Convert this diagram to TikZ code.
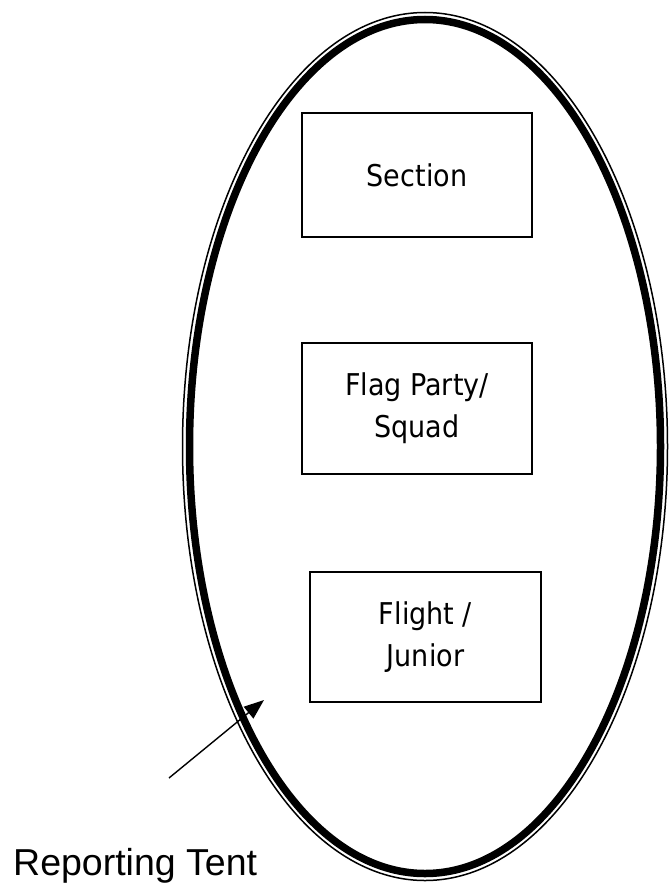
\documentclass[tikz,border=0pt]{standalone}
\usepackage{fontspec}
\setmainfont{Liberation Sans}
\newfontfamily\boxfont{DejaVu Sans Condensed}
\usetikzlibrary{arrows.meta}
\tikzset{
  tentbox/.style={draw, line width=1.4pt, inner sep=0pt, align=center,
    font=\boxfont\fontsize{30}{42}\selectfont},
  tentlabel/.style={inner sep=0pt, anchor=base west, font=\fontsize{37.5}{40}\selectfont},
  pointer/.style={line width=1.4pt, -{Triangle[length=20pt,width=15pt]}}
}
\begin{document}
\begin{tikzpicture}[x=1pt,y=-1pt]
\useasboundingbox (0,0) rectangle (670,888);
% tent outline: thin outer line and thick inner line
\draw[line width=1.5pt] (425,446.5) ellipse [x radius=242.5, y radius=434];
\draw[line width=7.5pt] (425,446.5) ellipse [x radius=235.5, y radius=427];
\node[tentbox, minimum width=230pt, minimum height=124pt] (section) at (417,175) {Section};
\node[tentbox, minimum width=230pt, minimum height=131pt] (flag) at (417,408.5) {Flag Party/\\Squad};
\node[tentbox, minimum width=231pt, minimum height=130pt] (flight) at (425.5,637) {Flight /\\Junior};
\node[tentlabel] (label) at (13,875) {Reporting Tent};
\coordinate (from) at (169,778);
\coordinate (to) at (264,700);
\draw[pointer] (from) -- (to);
\end{tikzpicture}
\end{document}
